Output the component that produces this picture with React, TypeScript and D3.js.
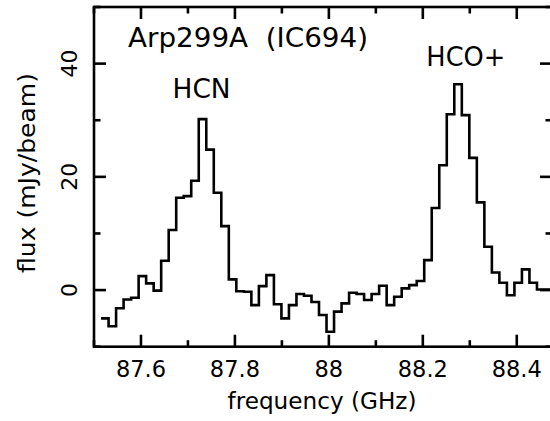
import React from "react";
import * as d3 from "d3";

// Channel centre frequencies (GHz)
const FREQ: number[] = [
  87.523, 87.539, 87.555, 87.571, 87.587, 87.603, 87.619, 87.635, 87.651, 87.667,
  87.683, 87.699, 87.715, 87.731, 87.747, 87.763, 87.779, 87.795, 87.811, 87.827,
  87.843, 87.859, 87.875, 87.891, 87.907, 87.923, 87.939, 87.955, 87.971, 87.987,
  88.003, 88.019, 88.035, 88.051, 88.067, 88.083, 88.099, 88.115, 88.131, 88.147,
  88.163, 88.179, 88.195, 88.211, 88.227, 88.243, 88.259, 88.275, 88.291, 88.307,
  88.323, 88.339, 88.355, 88.371, 88.387, 88.403, 88.419, 88.435, 88.451, 88.467,
  88.483,
];
const CHANNEL_WIDTH = 0.016;

// Flux (mJy/beam)
const FLUX: number[] = [
  -5.0, -6.4, -3.2, -1.65, -1.35, 2.47, 1.18, -0.1, 5.18, 10.6,
  16.3, 16.6, 19.3, 30.2, 24.8, 17.2, 11.3, 1.9, -0.2, -0.3,
  -2.65, 0.7, 2.65, -2.5, -5.0, -2.65, -0.7, -1.0, -2.1, -4.4,
  -7.35, -3.8, -2.35, -0.47, -0.7, -1.76, -0.7, 0.76, -2.65, -1.18,
  0.3, 0.88, 1.6, 5.3, 14.5, 22.05, 31.06, 36.35, 30.9, 23.35,
  15.5, 7.65, 3.1, 1.3, -0.9, 1.3, 3.65, 1.3, 0.1, 0.1,
  0.1,
];

const X_DOMAIN: [number, number] = [87.5, 88.475];
const Y_DOMAIN: [number, number] = [-10, 50];
const X_MAJOR = [87.6, 87.8, 88.0, 88.2, 88.4];
const X_MINOR = [87.5, 87.7, 87.9, 88.1, 88.3];
const X_LABELS = ["87.6", "87.8", "88", "88.2", "88.4"];
const Y_MAJOR = [0, 20, 40];
const Y_MINOR = [-10, 10, 30, 50];
const Y_LABELS = ["0", "20", "40"];

const TITLE = "Arp299A  (IC694)";
const LINE_LABELS = [
  { text: "HCN", freq: 87.6673, flux: 33.94, len: 58 },
  { text: "HCO+", freq: 88.2075, flux: 39.59, len: 79 },
];

export default function App() {
  const W = 550, H = 421;
  const left = 94, right = 552, top = 7, bottom = 346.7;
  const x = d3.scaleLinear().domain(X_DOMAIN).range([left, right]);
  const y = d3.scaleLinear().domain(Y_DOMAIN).range([bottom, top]);

  const pts: [number, number][] = [];
  FREQ.forEach((f, i) => {
    pts.push([f - CHANNEL_WIDTH / 2, FLUX[i]]);
    pts.push([f + CHANNEL_WIDTH / 2, FLUX[i]]);
  });
  const line = d3
    .line<[number, number]>()
    .x((d) => x(d[0]))
    .y((d) => y(d[1]));

  const font = "'DejaVu Sans', 'Liberation Sans', Arial, sans-serif";
  const sw = 2.6;
  const majorLen = 12, minorLen = 6.5;

  return (
    <svg
      width={W}
      height={H}
      viewBox={`0 0 ${W} ${H}`}
      style={{ position: "absolute", left: 0, top: 0, background: "#fff" }}
    >
      <rect x={0} y={0} width={W} height={H} fill="#fff" />
      <defs>
        <clipPath id="plotclip">
          <rect x={left} y={top} width={right - left} height={bottom - top} />
        </clipPath>
      </defs>
      {/* frame */}
      <rect
        x={left}
        y={top}
        width={right - left}
        height={bottom - top}
        fill="none"
        stroke="#000"
        strokeWidth={sw}
      />
      {/* x ticks */}
      {X_MAJOR.map((v) => (
        <g key={"xm" + v}>
          <line x1={x(v)} x2={x(v)} y1={bottom} y2={bottom - majorLen} stroke="#000" strokeWidth={sw} />
          <line x1={x(v)} x2={x(v)} y1={top} y2={top + majorLen} stroke="#000" strokeWidth={sw} />
        </g>
      ))}
      {X_MINOR.map((v) => (
        <g key={"xn" + v}>
          <line x1={x(v)} x2={x(v)} y1={bottom} y2={bottom - minorLen} stroke="#000" strokeWidth={sw} />
          <line x1={x(v)} x2={x(v)} y1={top} y2={top + minorLen} stroke="#000" strokeWidth={sw} />
        </g>
      ))}
      {/* y ticks */}
      {Y_MAJOR.map((v) => (
        <g key={"ym" + v}>
          <line x1={left} x2={left + majorLen} y1={y(v)} y2={y(v)} stroke="#000" strokeWidth={sw} />
          <line x1={right} x2={right - majorLen} y1={y(v)} y2={y(v)} stroke="#000" strokeWidth={sw} />
        </g>
      ))}
      {Y_MINOR.map((v) => (
        <g key={"yn" + v}>
          <line x1={left} x2={left + minorLen} y1={y(v)} y2={y(v)} stroke="#000" strokeWidth={sw} />
          <line x1={right} x2={right - minorLen} y1={y(v)} y2={y(v)} stroke="#000" strokeWidth={sw} />
        </g>
      ))}
      {/* x tick labels */}
      {X_MAJOR.map((v, i) => (
        <text
          key={"xl" + v}
          x={x(v)}
          y={377}
          textAnchor="middle"
          fontFamily={font}
          fontSize={22.5}
          fill="#000"
        >
          {X_LABELS[i]}
        </text>
      ))}
      {/* y tick labels */}
      {Y_MAJOR.map((v, i) => (
        <text
          key={"yl" + v}
          transform={`translate(77,${y(v)}) rotate(-90)`}
          textAnchor="middle"
          fontFamily={font}
          fontSize={22}
          fill="#000"
        >
          {Y_LABELS[i]}
        </text>
      ))}
      {/* axis titles */}
      <text
        x={322}
        y={409}
        textAnchor="middle"
        fontFamily={font}
        fontSize={23}
        textLength={189}
        lengthAdjust="spacingAndGlyphs"
        fill="#000"
      >
        frequency (GHz)
      </text>
      <text
        transform={`translate(35,173) rotate(-90)`}
        textAnchor="middle"
        fontFamily={font}
        fontSize={23}
        textLength={200}
        lengthAdjust="spacingAndGlyphs"
        fill="#000"
      >
        flux (mJy/beam)
      </text>
      {/* spectrum */}
      <path
        d={line(pts) || ""}
        fill="none"
        stroke="#000"
        strokeWidth={sw}
        strokeLinejoin="miter"
        clipPath="url(#plotclip)"
      />
      {/* title and line labels */}
      <text
        x={128}
        y={46.7}
        fontFamily={font}
        fontSize={27}
        textLength={240}
        lengthAdjust="spacingAndGlyphs"
        style={{ whiteSpace: "pre" }}
        fill="#000"
      >
        {TITLE}
      </text>
      {LINE_LABELS.map((l) => (
        <text
          key={l.text}
          x={x(l.freq)}
          y={y(l.flux)}
          fontFamily={font}
          fontSize={27}
          textLength={l.len}
          lengthAdjust="spacingAndGlyphs"
          fill="#000"
        >
          {l.text}
        </text>
      ))}
    </svg>
  );
}
